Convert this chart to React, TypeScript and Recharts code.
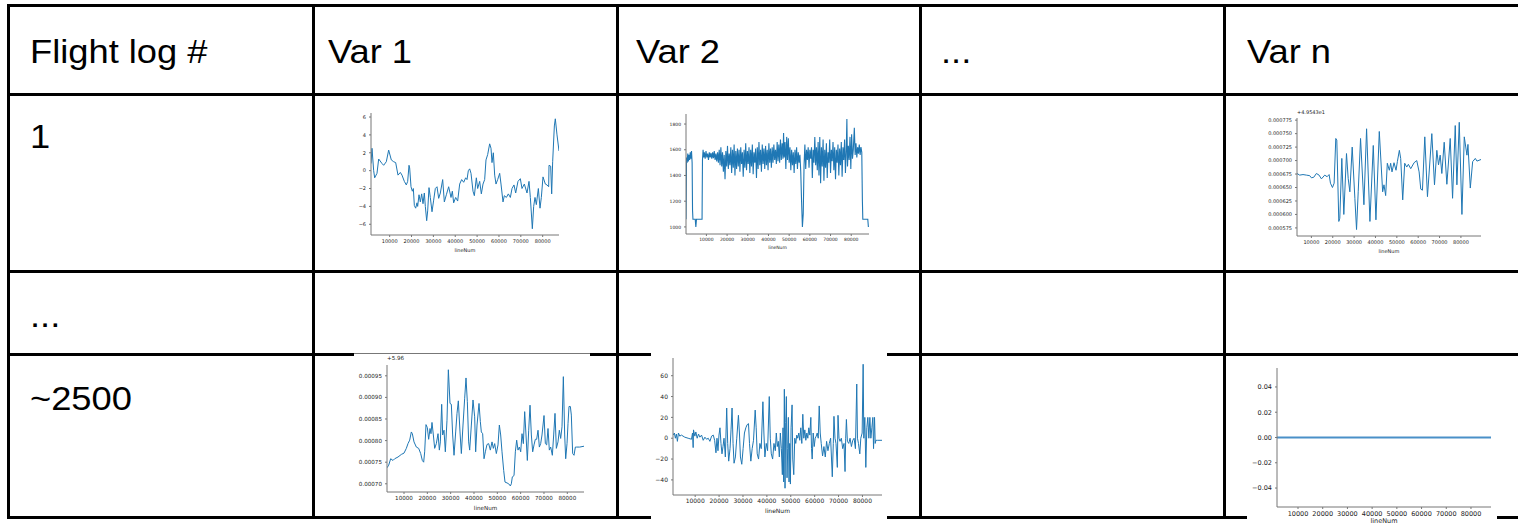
import { LineChart, Line, XAxis, YAxis } from 'recharts';

type Pt = [number, number];

const headers = ['Flight log #', 'Var 1', 'Var 2', '...', 'Var n'];
const rowLabels = ['1', '...', '~2500'];
const xTicks = [10000, 20000, 30000, 40000, 50000, 60000, 70000, 80000];

// flight log 1, var 1
const log1Var1: Pt[] = [
  [1460, 0.8], [1920, 2.5], [2680, 0.0], [3140, -0.8], [4200, -0.3], [4970, 1.3], [6490, 0.8], [7250, 0.6],
  [8470, 1.0], [9540, 2.3], [10760, 1.2], [11830, 1.0], [12750, 0.9], [13810, -0.5], [14880, -0.2], [15640, -0.5],
  [16710, -1.2], [17620, -1.6], [18240, -1.2], [18850, 0.6], [19150, 0.3], [19760, -1.8], [20370, -2.3], [20830, -2.0],
  [21290, -3.9], [21900, -4.2], [22500, -3.6], [22810, -4.0], [23420, -2.7], [24030, -3.5], [24640, -2.6], [25250, -3.7],
  [25860, -2.5], [26320, -4.0], [26930, -5.6], [27390, -4.5], [28000, -1.9], [28600, -3.0], [29370, -4.6], [30130, -3.3],
  [30890, -2.0], [31660, -1.8], [32420, -3.1], [33180, -2.5], [34250, -1.0], [35010, -3.5], [35930, -2.7], [36990, -1.8],
  [38060, -3.0], [38670, -2.3], [39280, -3.6], [40200, -3.0], [41110, -3.4], [42030, -1.5], [42940, -1.0], [43860, -1.3],
  [44770, -0.8], [45380, -1.0], [45990, 0.0], [46600, 0.2], [47210, -0.3], [48130, -2.3], [48740, -2.8], [49650, -0.8],
  [50260, -2.0], [51180, -1.2], [51940, -2.6], [52700, -1.5], [53460, -1.0], [54070, 1.2], [54840, 1.8], [55750, 3.0],
  [56360, 2.5], [56820, 0.9], [57430, 2.0], [58040, -0.5], [58650, -1.5], [59410, -1.0], [60330, -0.3], [60940, -1.5],
  [61850, -3.5], [62460, -2.8], [63380, -3.0], [64290, -2.6], [65210, -3.0], [65970, -2.0], [66880, -1.6], [67650, -2.5],
  [68710, -1.2], [69780, -0.9], [70540, -2.0], [71610, -1.5], [72830, -2.5], [73750, -1.2], [74360, -3.0], [75270, -6.5],
  [75880, -4.0], [76490, -3.0], [77100, -3.8], [78020, -2.0], [78780, -4.2], [79390, -3.0], [80150, -0.7], [81220, -1.5],
  [81980, -1.6], [82740, -1.8], [82900, 0.6], [83660, 0.5], [84120, -2.6], [84570, 1.0], [85340, 5.0], [85790, 5.8],
  [86560, 4.0], [87470, 2.2],
];

// flight log 1, var 2
const log1Var2: Pt[] = [
  [150, 1060], [400, 1540], [700, 1500], [1000, 1570], [1300, 1510], [1600, 1560], [1900, 1520], [2200, 1580],
  [2500, 1530], [2800, 1590], [3100, 1500], [3300, 1130], [3500, 1060], [4600, 1060], [4900, 1000], [5200, 1060],
  [7900, 1060], [8100, 1520], [8400, 1600], [8700, 1540], [9000, 1580], [9400, 1530], [9800, 1590], [10200, 1540],
  [10600, 1570], [11000, 1520], [11400, 1580], [11800, 1540], [12200, 1575], [12600, 1530], [13000, 1580], [13400, 1535],
  [13800, 1590], [14200, 1520], [14600, 1570], [15000, 1510], [15400, 1580], [15800, 1500], [16200, 1600], [16600, 1480],
  [17000, 1620], [17400, 1470], [17800, 1580], [18200, 1430], [18600, 1560], [19000, 1370], [19400, 1590], [19800, 1470],
  [20200, 1630], [20600, 1450], [21000, 1570], [21400, 1480], [21800, 1620], [22200, 1420], [22600, 1600], [23000, 1460],
  [23400, 1640], [23800, 1400], [24200, 1590], [24600, 1450], [25000, 1610], [25400, 1470], [25800, 1600], [26200, 1430],
  [26600, 1620], [27000, 1490], [27400, 1580], [27800, 1390], [28200, 1600], [28600, 1460], [29000, 1650], [29400, 1440],
  [29800, 1590], [30200, 1490], [30600, 1620], [31000, 1420], [31400, 1600], [31800, 1470], [32200, 1640], [32600, 1410],
  [33000, 1580], [33400, 1500], [33800, 1610], [34200, 1380], [34600, 1620], [35000, 1450], [35400, 1660], [35800, 1480],
  [36200, 1600], [36600, 1430], [37000, 1640], [37400, 1490], [37800, 1610], [38200, 1450], [38600, 1630], [39000, 1480],
  [39400, 1600], [39800, 1440], [40200, 1650], [40600, 1500], [41000, 1610], [41400, 1460], [41800, 1620], [42200, 1500],
  [42600, 1640], [43000, 1520], [43400, 1600], [43800, 1490], [44200, 1660], [44600, 1510], [45000, 1640], [45400, 1500],
  [45800, 1680], [46200, 1520], [46600, 1650], [47000, 1530], [47300, 1730], [47600, 1540], [48000, 1660], [48400, 1450],
  [48800, 1700], [49200, 1520], [49600, 1690], [50000, 1500], [50400, 1620], [50800, 1440], [51200, 1600], [51600, 1480],
  [52000, 1580], [52400, 1420], [52800, 1600], [53200, 1490], [53600, 1620], [54000, 1450], [54400, 1580], [54800, 1500],
  [55200, 1560], [55600, 1430], [56000, 1200], [56400, 1000], [56800, 1100], [57200, 1480], [57600, 1640], [58000, 1450],
  [58400, 1600], [58800, 1520], [59200, 1620], [59600, 1460], [60000, 1600], [60400, 1530], [60800, 1620], [61200, 1380],
  [61600, 1600], [62000, 1500], [62400, 1700], [62800, 1480], [63200, 1620], [63600, 1440], [64000, 1660], [64400, 1400],
  [64800, 1700], [65200, 1340], [65600, 1620], [66000, 1470], [66400, 1680], [66800, 1360], [67200, 1600], [67600, 1460],
  [68000, 1650], [68400, 1380], [68800, 1580], [69200, 1500], [69600, 1680], [70000, 1420], [70400, 1600], [70800, 1510],
  [71200, 1660], [71600, 1440], [72000, 1620], [72400, 1370], [72800, 1600], [73200, 1500], [73600, 1640], [74000, 1400],
  [74400, 1610], [74800, 1480], [75200, 1660], [75600, 1390], [76000, 1620], [76400, 1520], [76800, 1680], [77200, 1420],
  [77600, 1600], [77900, 1840], [78200, 1470], [78600, 1630], [79000, 1520], [79400, 1700], [79800, 1450], [80200, 1720],
  [80600, 1530], [81000, 1600], [81500, 1770], [81900, 1560], [82300, 1650], [82700, 1540], [83100, 1620], [83500, 1570],
  [83900, 1640], [84300, 1560], [84700, 1620], [85100, 1580], [85400, 1200], [85600, 1060], [88000, 1060], [88300, 1000],
];

// flight log 1, var n (offset +4.9543e1)
const log1VarN: Pt[] = [
  [3270, 0.000676], [4520, 0.000673], [6080, 0.000674], [7650, 0.000673], [9220, 0.000672], [10000, 0.000668],
  [11100, 0.000669], [12350, 0.000676], [13600, 0.000673], [14700, 0.000666], [16260, 0.000673], [17360, 0.00067],
  [18300, 0.000674], [18930, 0.000658], [19870, 0.00065], [20650, 0.000658], [21430, 0.000741], [21900, 0.000738],
  [22840, 0.000587], [23310, 0.000593], [24250, 0.000704], [25190, 0.0006], [26440, 0.000713], [27230, 0.000667],
  [28010, 0.000642], [29110, 0.000725], [30360, 0.00063], [31140, 0.000572], [31920, 0.000642], [33020, 0.000741],
  [34590, 0.000618], [35840, 0.000759], [37410, 0.000587], [38970, 0.000728], [40220, 0.00059], [41790, 0.000754],
  [43360, 0.000642], [43980, 0.000655], [44770, 0.000635], [45550, 0.000695], [46490, 0.000682], [47110, 0.000695],
  [47740, 0.000679], [48680, 0.000696], [49620, 0.000682], [50250, 0.000698], [51190, 0.000719], [51810, 0.000704],
  [52750, 0.000627], [53690, 0.000695], [54630, 0.000688], [55410, 0.000693], [56510, 0.000685], [58080, 0.000696],
  [59330, 0.0007], [60430, 0.000679], [61210, 0.000647], [61990, 0.000645], [63090, 0.000744], [64340, 0.000633],
  [66380, 0.00075], [67630, 0.000655], [68730, 0.000719], [69510, 0.000692], [70290, 0.00071], [71070, 0.000676],
  [72170, 0.000734], [73420, 0.000656], [74990, 0.000741], [76090, 0.00063], [77340, 0.000765], [78120, 0.000655],
  [79220, 0.000771], [80470, 0.0006], [81570, 0.000744], [82820, 0.00071], [83290, 0.00073], [84390, 0.000649],
  [85490, 0.000698], [86740, 0.000704], [87520, 0.000699], [89400, 0.000702],
];

// flight log ~2500, var 1 (offset +5.96)
const log2500Var1: Pt[] = [
  [2710, 0.000737], [3430, 0.000743], [4280, 0.000758], [5280, 0.000754], [6000, 0.000758], [7430, 0.000762],
  [8860, 0.000768], [10000, 0.000771], [11000, 0.000782], [11710, 0.000793], [12430, 0.000801], [13140, 0.00082],
  [13570, 0.000816], [14290, 0.000797], [15290, 0.000785], [16290, 0.000782], [17150, 0.00077], [17860, 0.000754],
  [18430, 0.00075], [18860, 0.000774], [19430, 0.000837], [20000, 0.00083], [20570, 0.000803], [21150, 0.000828],
  [21570, 0.000816], [22000, 0.000842], [22580, 0.000813], [23150, 0.000782], [23860, 0.000793], [24580, 0.000816],
  [25150, 0.000778], [25580, 0.000797], [26150, 0.000884], [26580, 0.000813], [27150, 0.000824], [27720, 0.000774],
  [28430, 0.000847], [29010, 0.000964], [29720, 0.000886], [30290, 0.000884], [30860, 0.000813], [31440, 0.000766],
  [32150, 0.00082], [32720, 0.000863], [33290, 0.000892], [34010, 0.00082], [34580, 0.00077], [35290, 0.000836],
  [36010, 0.000898], [36580, 0.000945], [37150, 0.00089], [37720, 0.000797], [38150, 0.000778], [38870, 0.000836],
  [39580, 0.000894], [40290, 0.000855], [40720, 0.000774], [41300, 0.000836], [42150, 0.000886], [42720, 0.000844],
  [43150, 0.00082], [43720, 0.000816], [44300, 0.000758], [44870, 0.000774], [45580, 0.000791], [46300, 0.000793],
  [47010, 0.000778], [47730, 0.000797], [48300, 0.000782], [48870, 0.000793], [49580, 0.00077], [50300, 0.00079],
  [50870, 0.000836], [51440, 0.000813], [52010, 0.000774], [52730, 0.000731], [53300, 0.000704], [54160, 0.000702],
  [54870, 0.0007], [55590, 0.000695], [56010, 0.0007], [56440, 0.000716], [57160, 0.000719], [57730, 0.000774],
  [58300, 0.000801], [58870, 0.000778], [59440, 0.000785], [60020, 0.000774], [60590, 0.000816], [61160, 0.000793],
  [61730, 0.000867], [62300, 0.000813], [62870, 0.000754], [63450, 0.000824], [64020, 0.000882], [64590, 0.000813],
  [65160, 0.000774], [65730, 0.00079], [66300, 0.000803], [66870, 0.000803], [67450, 0.000824], [68020, 0.000785],
  [68590, 0.000793], [69160, 0.000813], [70020, 0.000858], [70590, 0.000793], [71160, 0.00079], [71730, 0.000828],
  [72300, 0.000778], [72880, 0.000785], [73590, 0.000766], [74160, 0.000813], [74730, 0.000863], [75310, 0.000782],
  [76020, 0.000797], [76590, 0.000824], [77160, 0.000805], [77730, 0.000832], [78310, 0.000948], [78880, 0.000813],
  [79310, 0.000758], [79880, 0.000793], [80310, 0.00084], [80730, 0.000879], [81310, 0.000879], [81730, 0.000859],
  [82300, 0.00077], [82880, 0.000766], [83450, 0.000785], [84020, 0.000785], [85310, 0.000785], [87170, 0.000787],
];

// flight log ~2500, var 2
const log2500Var2: Pt[] = [
  [740, 3], [1300, 5], [1720, 0], [2140, 4], [2560, -3], [2990, 5], [3550, 2], [4250, 3], [5650, 1], [7050, 0],
  [8460, -1], [8880, 5], [9160, -9], [9300, 8], [9860, 2], [10280, 6], [10840, 0], [11400, 4], [11960, 1], [12670, 3],
  [13370, -2], [14070, 1], [14770, -1], [15470, 0], [16170, -3], [16870, 2], [17580, 3], [18140, -2], [18700, -14],
  [19120, 0], [19540, -12], [19960, 3], [20380, 10], [20800, -5], [21220, -15], [21640, -8], [22070, 0], [22630, -18],
  [23190, 29], [23610, -5], [24030, -22], [24590, -10], [25010, 8], [25430, 29], [25850, -5], [26270, -24], [26840, -18],
  [27400, 0], [28100, 22], [28520, 5], [28940, -18], [29500, -25], [30060, -10], [30620, 5], [31190, 10], [31750, 13],
  [32310, 14], [32730, -5], [33290, -22], [33850, -10], [34410, -2], [35110, 27], [35530, 10], [35960, -15], [36520, -20],
  [37080, -5], [37640, -10], [38340, 35], [38760, 5], [39180, -18], [39740, -5], [40300, -12], [41010, 40], [41430, 0],
  [41850, -15], [42410, -20], [42970, -5], [43530, -12], [43950, 5], [44370, -8], [44790, -3], [45220, -18], [45640, 5],
  [46060, -10], [46480, -35], [46760, 10], [47040, -42], [47320, 47], [47600, -48], [47880, 15], [48160, 40], [48440, -38],
  [48720, -10], [49000, 20], [49280, -42], [49560, -5], [49850, -44], [50130, 10], [50550, 32], [50830, -20], [51250, -35],
  [51670, 0], [52090, -5], [52510, 3], [52930, 0], [53350, 5], [53770, -2], [54190, 10], [54620, -5], [55040, 23],
  [55460, 0], [55880, 8], [56300, -2], [56720, 5], [57140, 0], [57560, 10], [57980, 3], [58400, 20], [58680, -10],
  [58960, -20], [59390, 5], [59810, -8], [60230, 0], [60650, 2], [61070, 5], [61490, 0], [61910, 31], [62330, 5],
  [62750, -5], [63310, -17], [63880, -8], [64440, -18], [65000, -3], [65560, -12], [66120, -5], [66680, 0], [67380, -37],
  [67800, -5], [68080, 21], [68510, 0], [68930, -5], [69490, -28], [69770, 22], [70190, 0], [70610, -3], [71170, 0],
  [71730, -10], [72290, -5], [72710, -32], [72990, 0], [73280, 18], [73700, -3], [74260, -5], [74820, 0], [75380, -8],
  [75940, -2], [76500, 0], [77060, -10], [77620, 52], [77910, 0], [78330, -5], [78890, -15], [79310, 0], [79870, 5],
  [80290, 71], [80570, 0], [80990, 20], [81410, -28], [81830, 10], [82250, 20], [82680, 0], [83100, 20], [83520, 0],
  [83940, 10], [84360, 20], [84640, -10], [85060, 20], [85340, -5], [85620, -2], [86320, -2], [88430, -2],
];

// flight log ~2500, var n
const log2500VarN: Pt[] = [[1500, 0], [30000, 0], [60000, 0], [88100, 0]];

type Box = { x: number; y: number; w: number; h: number };

type PlotProps = {
  data: Pt[];
  box: Box;
  xDomain: [number, number];
  yDomain: [number, number];
  yTicks: number[];
  fmt: (v: number) => string;
  fs: number;
  yw: number;
  xh: number;
  offset?: string;
  color?: string;
  lw?: number;
};

const minus = (s: string) => s.replace('-', '\u2212');

function MiniPlot({ data, box, xDomain, yDomain, yTicks, fmt, fs, yw, xh, offset, color = '#1f77b4', lw = 1 }: PlotProps) {
  const top = 3;
  const right = 4;
  const bottom = 2;
  const width = yw + box.w + right;
  const height = top + box.h + xh + bottom;
  const rows = data.map(([x, y]) => ({ x, y }));
  const tickStyle = { fontSize: fs, fill: '#222', fontFamily: 'DejaVu Sans' };
  return (
    <div style={{ position: 'absolute', left: box.x - yw, top: box.y - top, width, height }}>
      <LineChart width={width} height={height} data={rows} margin={{ top, right, bottom, left: 0 }}>
        <XAxis
          dataKey="x"
          type="number"
          domain={xDomain}
          allowDataOverflow
          ticks={xTicks}
          interval={0}
          tick={tickStyle}
          tickSize={2}
          tickMargin={2}
          stroke="#777"
          height={xh}
          label={{ value: 'lineNum', position: 'insideBottom', offset: 0, fontSize: fs, fill: '#222', fontFamily: 'DejaVu Sans' }}
        />
        <XAxis xAxisId="top" orientation="top" type="number" domain={xDomain} tick={false} tickLine={false} height={0} stroke="#777" />
        <YAxis
          type="number"
          domain={yDomain}
          allowDataOverflow
          ticks={yTicks}
          interval={0}
          tickFormatter={(v: number) => minus(fmt(v))}
          tick={tickStyle}
          tickSize={2}
          tickMargin={3}
          width={yw}
          stroke="#777"
        />
        <YAxis yAxisId="right" orientation="right" type="number" domain={yDomain} tick={false} tickLine={false} width={0} stroke="#777" />
        <Line dataKey="y" stroke={color} strokeWidth={lw} dot={false} isAnimationActive={false} />
      </LineChart>
      {offset && (
        <div
          style={{
            position: 'absolute',
            left: yw,
            top: -fs,
            fontSize: fs,
            lineHeight: `${fs}px`,
            fontFamily: 'DejaVu Sans',
            color: '#222',
            whiteSpace: 'nowrap',
          }}
        >
          {offset}
        </div>
      )}
    </div>
  );
}

const colX = [30, 328, 636, 941, 1247];
const rowBase = [148, 327, 410];

export default function App() {
  const font = { fontFamily: '"Liberation Sans", Arial, sans-serif', fontSize: 33, fill: '#000' };
  return (
    <div style={{ position: 'absolute', left: 0, top: 0, width: 1518, height: 523, background: '#fff', overflow: 'hidden' }}>
      <svg width={1518} height={523} style={{ position: 'absolute', left: 0, top: 0 }}>
        {/* horizontal rules */}
        <rect x={7} y={4} width={1511} height={3} fill="#000" />
        <rect x={7} y={93} width={1511} height={3} fill="#000" />
        <rect x={7} y={270} width={1511} height={3} fill="#000" />
        <rect x={7} y={353} width={1511} height={3} fill="#000" />
        <rect x={7} y={516} width={1511} height={3} fill="#000" />
        {/* vertical rules */}
        <rect x={7} y={4} width={3} height={515} fill="#000" />
        <rect x={312} y={4} width={3} height={515} fill="#000" />
        <rect x={616} y={4} width={3} height={515} fill="#000" />
        <rect x={919} y={4} width={3} height={515} fill="#000" />
        <rect x={1223} y={4} width={3} height={515} fill="#000" />
        {/* pasted images cover parts of the rules */}
        <rect x={354} y={354} width={236} height={160} fill="#fff" />
        <rect x={354} y={353} width={236} height={1} fill="#777" />
        <rect x={651} y={350} width={236} height={172} fill="#fff" />
        <rect x={1247} y={358} width={250} height={165} fill="#fff" />
        {headers.map((h, i) => (
          <text key={h + i} transform={`translate(${colX[i]},63) scale(1.1,1)`} {...font}>
            {h}
          </text>
        ))}
        {rowLabels.map((r, i) => (
          <text key={r + i} transform={`translate(30,${rowBase[i]}) scale(1.1,1)`} {...font}>
            {r}
          </text>
        ))}
      </svg>

      <MiniPlot
        data={log1Var1}
        box={{ x: 371, y: 113, w: 188, h: 122 }}
        xDomain={[1460, 87470]}
        yDomain={[-7.2, 6.45]}
        yTicks={[-6, -4, -2, 0, 2, 4, 6]}
        fmt={(v) => String(v)}
        fs={5}
        yw={30}
        xh={17}
      />
      <MiniPlot
        data={log1Var2}
        box={{ x: 686, y: 114, w: 183, h: 120 }}
        xDomain={[140, 88590]}
        yDomain={[945, 1878]}
        yTicks={[1000, 1200, 1400, 1600, 1800]}
        fmt={(v) => String(v)}
        fs={4.5}
        yw={28}
        xh={15}
        lw={1.1}
      />
      <MiniPlot
        data={log1VarN}
        box={{ x: 1297, y: 118, w: 184, h: 118 }}
        xDomain={[3270, 89400]}
        yDomain={[0.00056, 0.000779]}
        yTicks={[0.000575, 0.0006, 0.000625, 0.00065, 0.000675, 0.0007, 0.000725, 0.00075, 0.000775]}
        fmt={(v) => v.toFixed(6)}
        fs={5}
        yw={36}
        xh={17}
        offset="+4.9543e1"
      />
      <MiniPlot
        data={log2500Var1}
        box={{ x: 387, y: 365, w: 197, h: 127 }}
        xDomain={[2710, 87160]}
        yDomain={[0.000681, 0.000975]}
        yTicks={[0.0007, 0.00075, 0.0008, 0.00085, 0.0009, 0.00095]}
        fmt={(v) => v.toFixed(5)}
        fs={5.6}
        yw={32}
        xh={18}
        offset="+5.96"
      />
      <MiniPlot
        data={log2500Var2}
        box={{ x: 673, y: 358, w: 209, h: 137 }}
        xDomain={[720, 88180]}
        yDomain={[-54.5, 77]}
        yTicks={[-40, -20, 0, 20, 40, 60]}
        fmt={(v) => String(v)}
        fs={6}
        yw={24}
        xh={18}
      />
      <MiniPlot
        data={log2500VarN}
        box={{ x: 1277, y: 368, w: 214, h: 139 }}
        xDomain={[1500, 88100]}
        yDomain={[-0.055, 0.055]}
        yTicks={[-0.04, -0.02, 0, 0.02, 0.04]}
        fmt={(v) => v.toFixed(2)}
        fs={6.5}
        yw={28}
        xh={16}
        color="#4a90c8"
        lw={1.8}
      />
    </div>
  );
}
